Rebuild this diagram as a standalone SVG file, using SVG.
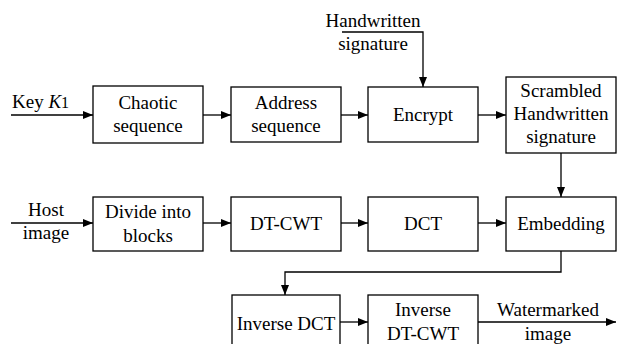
<svg xmlns="http://www.w3.org/2000/svg" width="618" height="344" viewBox="0 0 618 344">
<style>
.box{fill:#fff;stroke:#000;stroke-width:1.3}
.ln{fill:none;stroke:#000;stroke-width:1.3}
</style>
<defs>
<marker id="ah" viewBox="0 0 10 8" refX="10" refY="4" markerWidth="10" markerHeight="8" markerUnits="userSpaceOnUse" orient="auto">
<path d="M0,0 L10,4 L0,8 z" fill="#000"/>
</marker>
</defs>
<rect width="618" height="344" fill="#fff"/>
<g id="connectors">
<path class="ln" d="M11,115 H93" marker-end="url(#ah)"/>
<path class="ln" d="M203,115 H231" marker-end="url(#ah)"/>
<path class="ln" d="M341,115 H368" marker-end="url(#ah)"/>
<path class="ln" d="M478,115 H506" marker-end="url(#ah)"/>
<path class="ln" d="M342,32 H423 V87" marker-end="url(#ah)"/>
<path class="ln" d="M561,153 V197" marker-end="url(#ah)"/>
<path class="ln" d="M11,223 H93" marker-end="url(#ah)"/>
<path class="ln" d="M203,223 H231" marker-end="url(#ah)"/>
<path class="ln" d="M341,223 H368" marker-end="url(#ah)"/>
<path class="ln" d="M478,223 H506" marker-end="url(#ah)"/>
<path class="ln" d="M561,251 V272 H285 V295" marker-end="url(#ah)"/>
<path class="ln" d="M340,322 H368" marker-end="url(#ah)"/>
<path class="ln" d="M478,322 H616" marker-end="url(#ah)"/>
</g>
<g font-family="Liberation Serif, serif" font-size="19" fill="#000">
<g id="key-label"><text x="12" y="108">Key <tspan font-style="italic">K</tspan><tspan font-size="16">1</tspan></text></g>
<g text-anchor="middle">
<g id="handwritten-label"><text x="373" y="27">Handwritten</text><text x="373" y="50">signature</text></g>
<g id="chaotic"><rect class="box" x="93" y="86" width="110" height="57"/><text x="148" y="109">Chaotic</text><text x="148" y="132">sequence</text></g>
<g id="address"><rect class="box" x="231" y="87" width="110" height="55"/><text x="286" y="109">Address</text><text x="286" y="132">sequence</text></g>
<g id="encrypt"><rect class="box" x="368" y="87" width="110" height="55"/><text x="423" y="121">Encrypt</text></g>
<g id="scrambled"><rect class="box" x="506" y="77" width="110" height="76"/><text x="561" y="97">Scrambled</text><text x="561" y="120">Handwritten</text><text x="561" y="143">signature</text></g>
<g id="host-label"><text x="46" y="216">Host</text><text x="46" y="239">image</text></g>
<g id="divide"><rect class="box" x="93" y="197" width="110" height="54"/><text x="148" y="218">Divide into</text><text x="148" y="242">blocks</text></g>
<g id="dtcwt"><rect class="box" x="231" y="197" width="110" height="54"/><text x="286" y="230">DT-CWT</text></g>
<g id="dct"><rect class="box" x="368" y="197" width="110" height="54"/><text x="423" y="230">DCT</text></g>
<g id="embedding"><rect class="box" x="506" y="197" width="110" height="54"/><text x="561" y="230">Embedding</text></g>
<g id="inverse-dct"><rect class="box" x="232" y="295" width="108" height="54"/><text x="286" y="330">Inverse DCT</text></g>
<g id="inverse-dtcwt"><rect class="box" x="368" y="295" width="110" height="54"/><text x="423" y="316">Inverse</text><text x="423" y="340">DT-CWT</text></g>
<g id="watermarked-label"><text x="548" y="316">Watermarked</text><text x="548" y="340">image</text></g>
</g>
</g>
</svg>
